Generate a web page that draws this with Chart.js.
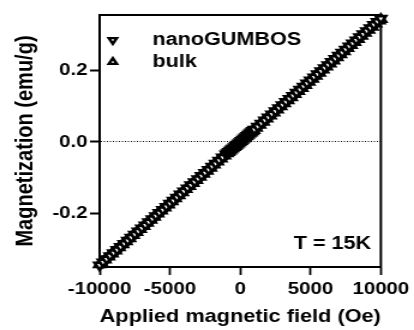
<!DOCTYPE html>
<html>
<head>
<meta charset="utf-8">
<script src="https://cdn.jsdelivr.net/npm/chart.js@4/dist/chart.umd.min.js"></script>
<style>
  html, body { margin: 0; padding: 0; background: #fff; overflow: hidden; }
  /* the source figure is stretched sideways, so draw narrow and stretch the canvas */
  #wrap { width: 345px; height: 330px; transform: scaleX(1.2); transform-origin: 0 0; }
</style>
</head>
<body>
<div id="wrap"><canvas id="chart" width="345" height="330"></canvas></div>
<script>
const seriesLabels = ['nanoGUMBOS', 'bulk'];
const tempLabel = 'T = 15K';

// field in Oe, magnetization in emu/g
const nanoField = [
  -10000, -9750, -9500, -9250, -9000, -8750, -8500, -8250, -8000, -7750, -7500, -7250, -7000, -6750, -6500, -6250, -6000, -5750,
  -5500, -5250, -5000, -4750, -4500, -4250, -4000, -3750, -3500, -3250, -3000, -2750, -2500, -2250, -2000, -1750, -1500, -1250,
  -1000, -900, -800, -700, -600, -500, -400, -300, -200, -100, 0, 100, 200, 300, 400, 500, 600, 700, 800, 900, 1000,
  1250, 1500, 1750, 2000, 2250, 2500, 2750, 3000, 3250, 3500, 3750, 4000, 4250, 4500, 4750, 5000, 5250, 5500,
  5750, 6000, 6250, 6500, 6750, 7000, 7250, 7500, 7750, 8000, 8250, 8500, 8750, 9000, 9250, 9500, 9750, 10000];
const nanoMag = [
  -0.3450, -0.3364, -0.3278, -0.3191, -0.3105, -0.3019, -0.2933, -0.2846, -0.2760, -0.2674, -0.2588, -0.2501, -0.2415, -0.2329, -0.2243, -0.2156, -0.2070, -0.1984,
  -0.1898, -0.1811, -0.1725, -0.1639, -0.1553, -0.1466, -0.1380, -0.1294, -0.1208, -0.1121, -0.1035, -0.0949, -0.0863, -0.0776, -0.0690, -0.0604, -0.0518, -0.0431,
  -0.0345, -0.0311, -0.0276, -0.0242, -0.0207, -0.0173, -0.0138, -0.0104, -0.0069, -0.0035, 0.0000, 0.0035, 0.0069, 0.0104, 0.0138, 0.0173, 0.0207, 0.0242, 0.0276, 0.0311, 0.0345,
  0.0431, 0.0518, 0.0604, 0.0690, 0.0776, 0.0863, 0.0949, 0.1035, 0.1121, 0.1208, 0.1294, 0.1380, 0.1466, 0.1553, 0.1639, 0.1725, 0.1811, 0.1898,
  0.1984, 0.2070, 0.2156, 0.2243, 0.2329, 0.2415, 0.2501, 0.2588, 0.2674, 0.2760, 0.2846, 0.2933, 0.3019, 0.3105, 0.3191, 0.3278, 0.3364, 0.3450];

const bulkField = [
  -10000, -9875, -9625, -9375, -9125, -8875, -8625, -8375, -8125, -7875, -7625, -7375, -7125, -6875, -6625, -6375, -6125, -5875, -5625,
  -5375, -5125, -4875, -4625, -4375, -4125, -3875, -3625, -3375, -3125, -2875, -2625, -2375, -2125, -1875, -1625, -1375, -1125,
  -950, -850, -750, -650, -550, -450, -350, -250, -150, -50, 50, 150, 250, 350, 450, 550, 650, 750, 850, 950,
  1125, 1375, 1625, 1875, 2125, 2375, 2625, 2875, 3125, 3375, 3625, 3875, 4125, 4375, 4625, 4875, 5125, 5375,
  5625, 5875, 6125, 6375, 6625, 6875, 7125, 7375, 7625, 7875, 8125, 8375, 8625, 8875, 9125, 9375, 9625, 9875, 10000];
const bulkMag = [
  -0.3430, -0.3387, -0.3301, -0.3216, -0.3130, -0.3044, -0.2958, -0.2873, -0.2787, -0.2701, -0.2615, -0.2530, -0.2444, -0.2358, -0.2272, -0.2187, -0.2101, -0.2015, -0.1929,
  -0.1844, -0.1758, -0.1672, -0.1586, -0.1501, -0.1415, -0.1329, -0.1243, -0.1158, -0.1072, -0.0986, -0.0900, -0.0815, -0.0729, -0.0643, -0.0557, -0.0472, -0.0386,
  -0.0326, -0.0292, -0.0257, -0.0223, -0.0189, -0.0154, -0.0120, -0.0086, -0.0051, -0.0017, 0.0017, 0.0051, 0.0086, 0.0120, 0.0154, 0.0189, 0.0223, 0.0257, 0.0292, 0.0326,
  0.0386, 0.0472, 0.0557, 0.0643, 0.0729, 0.0815, 0.0900, 0.0986, 0.1072, 0.1158, 0.1243, 0.1329, 0.1415, 0.1501, 0.1586, 0.1672, 0.1758, 0.1844,
  0.1929, 0.2015, 0.2101, 0.2187, 0.2272, 0.2358, 0.2444, 0.2530, 0.2615, 0.2701, 0.2787, 0.2873, 0.2958, 0.3044, 0.3130, 0.3216, 0.3301, 0.3387, 0.3430];

const xTicks = [-10000, -5000, 0, 5000, 10000];
const yTicks = [-0.2, 0.0, 0.2];

const fontFamily = '"Liberation Sans", Arial, Helvetica, sans-serif';
Chart.defaults.font.family = fontFamily;
Chart.defaults.font.weight = 'bold';
Chart.defaults.color = '#000';

const markerRadius = 4.8;
const markerBorder = 2.6;

function toPoints(xs, ys) {
  return xs.map((x, i) => ({ x: x, y: ys[i] }));
}

function drawTriangle(ctx, x, y, r, down) {
  const rot = down ? Math.PI : 0;
  ctx.beginPath();
  for (let k = 0; k < 3; k++) {
    const a = rot + k * 2 * Math.PI / 3;
    const px = x + Math.sin(a) * r;
    const py = y - Math.cos(a) * r;
    if (k === 0) ctx.moveTo(px, py); else ctx.lineTo(px, py);
  }
  ctx.closePath();
  ctx.fill();
  ctx.stroke();
}

// box frame, legend inside the plot and the temperature note
const figureText = {
  id: 'figureText',
  beforeDatasetsDraw(chart) {
    const { ctx, chartArea: a } = chart;
    ctx.save();
    ctx.strokeStyle = '#000';
    ctx.lineWidth = 2;
    ctx.beginPath();
    ctx.moveTo(a.left - 1, a.top);
    ctx.lineTo(a.right, a.top);
    ctx.lineTo(a.right, a.bottom + 1);
    ctx.stroke();
    ctx.restore();
  },
  afterDatasetsDraw(chart) {
    const { ctx, chartArea: a } = chart;
    ctx.save();
    ctx.font = 'bold 18px ' + fontFamily;
    ctx.fillStyle = '#000';
    ctx.textBaseline = 'middle';
    ctx.textAlign = 'left';
    chart.data.datasets.forEach((ds, i) => {
      const y = a.top + 25 + i * 22;
      ctx.save();
      ctx.fillStyle = '#fff';
      ctx.strokeStyle = '#000';
      ctx.lineWidth = 2.4;
      drawTriangle(ctx, a.left + 11, y, 3.8, ds.pointRotation === 180);
      ctx.restore();
      ctx.fillText(ds.label, a.left + 44, y);
    });
    ctx.textAlign = 'right';
    ctx.textBaseline = 'alphabetic';
    ctx.fillText(tempLabel, a.right - 8, a.bottom - 18);
    ctx.restore();
  }
};

const tickFont = { size: 17, weight: 'bold' };

new Chart(document.getElementById('chart'), {
  type: 'scatter',
  data: {
    datasets: [
      {
        label: seriesLabels[0],
        data: toPoints(nanoField, nanoMag),
        pointStyle: 'triangle',
        pointRotation: 180,
        pointRadius: markerRadius,
        pointBorderWidth: markerBorder,
        pointBorderColor: '#000',
        pointBackgroundColor: '#fff',
        showLine: false,
        clip: false,
      },
      {
        label: seriesLabels[1],
        data: toPoints(bulkField, bulkMag),
        pointStyle: 'triangle',
        pointRotation: 0,
        pointRadius: markerRadius,
        pointBorderWidth: markerBorder,
        pointBorderColor: '#000',
        pointBackgroundColor: '#fff',
        showLine: false,
        clip: false,
      },
    ],
  },
  options: {
    responsive: false,
    animation: false,
    devicePixelRatio: 1,
    layout: { padding: { left: 0, right: 24, top: 15, bottom: 0 } },
    plugins: {
      legend: { display: false },
      tooltip: { enabled: false },
    },
    scales: {
      x: {
        type: 'linear',
        min: -10000,
        max: 10000,
        afterBuildTicks: (s) => { s.ticks = xTicks.map((v) => ({ value: v })); },
        afterFit: (s) => { s.height = 63; },
        grid: {
          drawOnChartArea: false,
          tickLength: 8,
          tickWidth: 1.8,
          tickColor: '#000',
        },
        border: { display: true, color: '#000', width: 2 },
        ticks: {
          color: '#000',
          font: tickFont,
          padding: 4,
          maxRotation: 0,
          autoSkip: false,
          callback: (v) => String(v),
        },
        title: {
          display: true,
          text: 'Applied magnetic field (Oe)',
          color: '#000',
          font: { size: 19, weight: 'bold' },
          padding: { top: 0, bottom: 1.5 },
        },
      },
      y: {
        type: 'linear',
        min: -0.35,
        max: 0.355,
        afterBuildTicks: (s) => { s.ticks = yTicks.map((v) => ({ value: v })); },
        afterFit: (s) => { s.width = 83; },
        grid: {
          drawOnChartArea: true,
          color: (c) => (c.tick && c.tick.value === 0 ? '#000' : 'rgba(0,0,0,0)'),
          lineWidth: 1,
          tickLength: 8,
          tickWidth: 2,
          tickColor: '#000',
          tickBorderDash: [],
        },
        border: { display: true, color: '#000', width: 2, dash: [1, 1.5] },
        ticks: {
          color: '#000',
          font: tickFont,
          padding: 2,
          callback: (v) => v.toFixed(1),
        },
        title: {
          display: true,
          text: 'Magnetization (emu/g)',
          color: '#000',
          font: { size: 20, weight: 'bold' },
          padding: { top: 9.5, bottom: 0 },
        },
      },
    },
  },
  plugins: [figureText],
});
</script>
</body>
</html>
